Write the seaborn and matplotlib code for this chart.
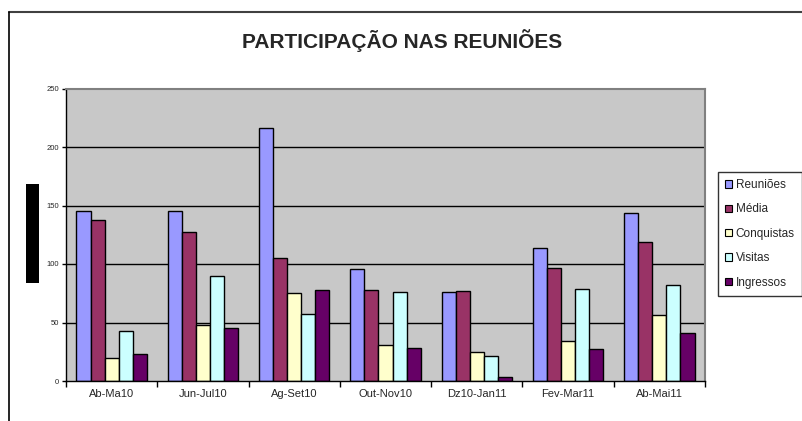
import matplotlib
matplotlib.use("Agg")
import matplotlib.pyplot as plt
import pandas as pd
import seaborn as sns
from matplotlib.patches import Rectangle
from matplotlib.lines import Line2D
from matplotlib.ticker import FixedLocator

# chart values
periods = ['Ab-Ma10', 'Jun-Jul10', 'Ag-Set10', 'Out-Nov10', 'Dz10-Jan11', 'Fev-Mar11', 'Ab-Mai11']
series = ['Reuniões', 'Média', 'Conquistas', 'Visitas', 'Ingressos']
reunioes = [145, 145, 216, 96, 76, 114, 144]
media = [138, 127, 105, 78, 77, 97, 119]
conquistas = [20, 48, 75, 31, 25, 34, 56]
visitas = [43, 90, 57, 76, 21, 79, 82]
ingressos = [23, 45, 78, 28, 3, 27, 41]
colors = ['#9999FF', '#993366', '#FFFFCC', '#CCFFFF', '#660066']

values = [reunioes, media, conquistas, visitas, ingressos]
rows = []
for name, vals in zip(series, values):
    for p, v in zip(periods, vals):
        rows.append({'periodo': p, 'serie': name, 'valor': v})
df = pd.DataFrame(rows)

sns.set_style('white')
plt.rcParams['font.family'] = ['Liberation Sans', 'DejaVu Sans']

fig = plt.figure(figsize=(8.03, 4.21), dpi=100)
ax = fig.add_axes([66 / 803, 40 / 421, 639 / 803, 292.5 / 421])
ax.set_facecolor('#C8C8C8')

sns.barplot(data=df, x='periodo', y='valor', hue='serie', order=periods,
            hue_order=series, palette=colors, saturation=1, width=0.77,
            edgecolor='black', linewidth=1, ax=ax, legend=False)

ax.set_ylim(0, 250)
ax.set_xlim(-0.5, len(periods) - 0.5)
ax.set_yticks([0, 50, 100, 150, 200, 250])
for y in [50, 100, 150, 200]:
    ax.axhline(y, color='black', linewidth=1, zorder=0.5)
ax.set_axisbelow(True)

ax.set_xlabel('')
ax.set_ylabel('')
ax.tick_params(axis='y', labelsize=5.5, length=3, width=1, color='black',
               direction='out', left=True, pad=2)
ax.tick_params(axis='x', which='major', labelsize=8, length=0, pad=6)
ax.xaxis.set_minor_locator(FixedLocator([i - 0.5 for i in range(len(periods) + 1)]))
ax.tick_params(axis='x', which='minor', length=4, width=1, color='black',
               direction='out', bottom=True)

for side in ['left', 'bottom']:
    ax.spines[side].set_color('black')
    ax.spines[side].set_linewidth(1)
for side in ['top', 'right']:
    ax.spines[side].set_color('#808080')
    ax.spines[side].set_linewidth(1.5)

fig.text(402 / 803, 1 - 41 / 421, 'PARTICIPAÇÃO NAS REUNIÕES',
         ha='center', va='center', fontsize=15, fontweight='bold')

handles = [Rectangle((0, 0), 1, 1, facecolor=c, edgecolor='black', linewidth=0.8)
           for c in colors]
leg = fig.legend(handles, series, loc='upper left',
                 bbox_to_anchor=(718 / 803, 1 - 172 / 421), fontsize=8.5,
                 frameon=True, fancybox=False, edgecolor='black',
                 handlelength=0.6, handleheight=0.6, handletextpad=0.3,
                 labelspacing=1.05, borderpad=0.6, borderaxespad=0)
leg.get_frame().set_linewidth(1)

# redaction block where the y label was
fig.patches.append(Rectangle((26 / 803, 1 - 283 / 421), 13 / 803, 99 / 421,
                             transform=fig.transFigure, facecolor='black',
                             edgecolor='none'))
# outer chart frame
fig.lines.append(Line2D([9 / 803, 1], [1 - 12 / 421, 1 - 12 / 421],
                        transform=fig.transFigure, color='#404040', linewidth=1.5))
fig.lines.append(Line2D([9 / 803, 9 / 803], [0, 1 - 12 / 421],
                        transform=fig.transFigure, color='black', linewidth=1.2))

fig.savefig('out.png', dpi=100)
